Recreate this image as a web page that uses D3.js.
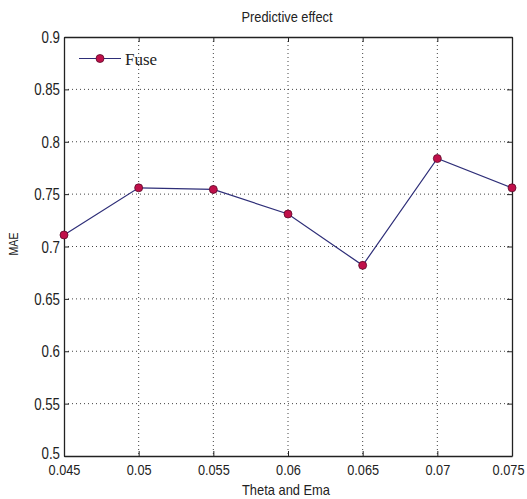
<!DOCTYPE html>
<html><head><meta charset="utf-8">
<script src="https://cdn.jsdelivr.net/npm/d3@7"></script>
<style>
body{margin:0;background:#fff;}
text{font-family:"Liberation Sans",Arial,sans-serif;}
</style></head>
<body>
<svg id="c" width="527" height="499"></svg>
<script>
const xValues = [0.045, 0.05, 0.055, 0.06, 0.065, 0.07, 0.075];
const fuseValues = [0.711, 0.756, 0.7545, 0.731, 0.682, 0.784, 0.756];
const xTicks = [0.045, 0.05, 0.055, 0.06, 0.065, 0.07, 0.075];
const yTicks = [0.5, 0.55, 0.6, 0.65, 0.7, 0.75, 0.8, 0.85, 0.9];
const seriesName = "Fuse";

const svg = d3.select("#c");
const L = 64, R = 512, T = 37, B = 456;
const x = d3.scaleLinear().domain([0.045, 0.075]).range([L, R]);
const y = d3.scaleLinear().domain([0.5, 0.9]).range([B, T]);

svg.append("rect").attr("width",527).attr("height",499).attr("fill","#fff");

// grid
const g = svg.append("g");
g.selectAll(".gx").data(xTicks.slice(1,-1)).enter().append("line")
  .attr("x1",d=>x(d)).attr("x2",d=>x(d)).attr("y1",T).attr("y2",B)
  .attr("stroke","#444").attr("stroke-width",1).attr("stroke-dasharray","1,3");
g.selectAll(".gy").data(yTicks.slice(1,-1)).enter().append("line")
  .attr("y1",d=>y(d)).attr("y2",d=>y(d)).attr("x1",L).attr("x2",R)
  .attr("stroke","#444").attr("stroke-width",1).attr("stroke-dasharray","1,3");

// axes
const fmt = d => String(+d.toFixed(3));
const ax = svg.append("g").attr("transform",`translate(0,${B})`)
  .call(d3.axisBottom(x).tickValues(xTicks).tickFormat(fmt).tickSizeInner(-5).tickSizeOuter(0));
const axT = svg.append("g").attr("transform",`translate(0,${T})`)
  .call(d3.axisTop(x).tickValues(xTicks).tickFormat("").tickSizeInner(-5).tickSizeOuter(0));
const ay = svg.append("g").attr("transform",`translate(${L},0)`)
  .call(d3.axisLeft(y).tickValues(yTicks).tickFormat(fmt).tickSizeInner(-5).tickSizeOuter(0));
const ayR = svg.append("g").attr("transform",`translate(${R},0)`)
  .call(d3.axisRight(y).tickValues(yTicks).tickFormat("").tickSizeInner(-5).tickSizeOuter(0));
[ax,axT,ay,ayR].forEach(a=>{
  a.attr("font-family",null).attr("font-size",null);
  a.selectAll("path").attr("stroke","#222").attr("stroke-width",1.3);
  a.selectAll("line").attr("stroke","#222");
  a.selectAll("text").attr("fill","#222").attr("font-size",16);
});
// condensed look via horizontal scaling
const kx = 0.85, ky = 0.83;
ax.selectAll("text").attr("font-size",15).attr("y",19).attr("dy",0)
  .attr("x",0).attr("transform",`scale(${kx},1)`);
// last x label kept inside the frame
ax.selectAll("text").filter(d=>d===0.075).attr("text-anchor","end").attr("x", 12/kx);
ay.selectAll("text").attr("dy","0.35em").attr("x",-4/ky).attr("transform",`scale(${ky},1)`);
// keep the first y label clear of the first x label
ay.selectAll("text").filter(d=>d===0.5).attr("y",-3);

// line
const data = xValues.map((v,i)=>({x:v,y:fuseValues[i]}));
svg.append("path").datum(data)
  .attr("d", d3.line().x(d=>x(d.x)).y(d=>y(d.y)))
  .attr("fill","none").attr("stroke","#2e2e78").attr("stroke-width",1.2);
svg.selectAll(".pt").data(data).enter().append("circle")
  .attr("cx",d=>x(d.x)).attr("cy",d=>y(d.y)).attr("r",4)
  .attr("fill","#c0104a").attr("stroke","#5a0a2a").attr("stroke-width",0.8);

// legend
const lg = svg.append("g");
lg.append("line").attr("x1",79).attr("x2",121).attr("y1",58.5).attr("y2",58.5)
  .attr("stroke","#2e2e78").attr("stroke-width",1.2);
lg.append("circle").attr("cx",100).attr("cy",58.5).attr("r",4)
  .attr("fill","#c0104a").attr("stroke","#5a0a2a").attr("stroke-width",0.8);
lg.append("text").attr("x",125).attr("y",65).text(seriesName)
  .style("font-family",'"Liberation Serif","Times New Roman",serif').attr("font-size",17).attr("fill","#222");

// titles
const t1 = svg.append("text").attr("x",287).attr("y",22).attr("text-anchor","middle")
  .attr("font-size",15).attr("fill","#222").text("Predictive effect");
const t2 = svg.append("text").attr("x",286).attr("y",495).attr("text-anchor","middle")
  .attr("font-size",15).attr("fill","#222").text("Theta and Ema");
const t3 = svg.append("text").attr("transform","translate(18,244) rotate(-90)").attr("text-anchor","middle")
  .attr("font-size",12).attr("fill","#222").text("MAE");
t1.attr("textLength",91).attr("lengthAdjust","spacingAndGlyphs");
t2.attr("textLength",88).attr("lengthAdjust","spacingAndGlyphs");
t3.attr("textLength",23).attr("lengthAdjust","spacingAndGlyphs");
</script>
</body></html>
